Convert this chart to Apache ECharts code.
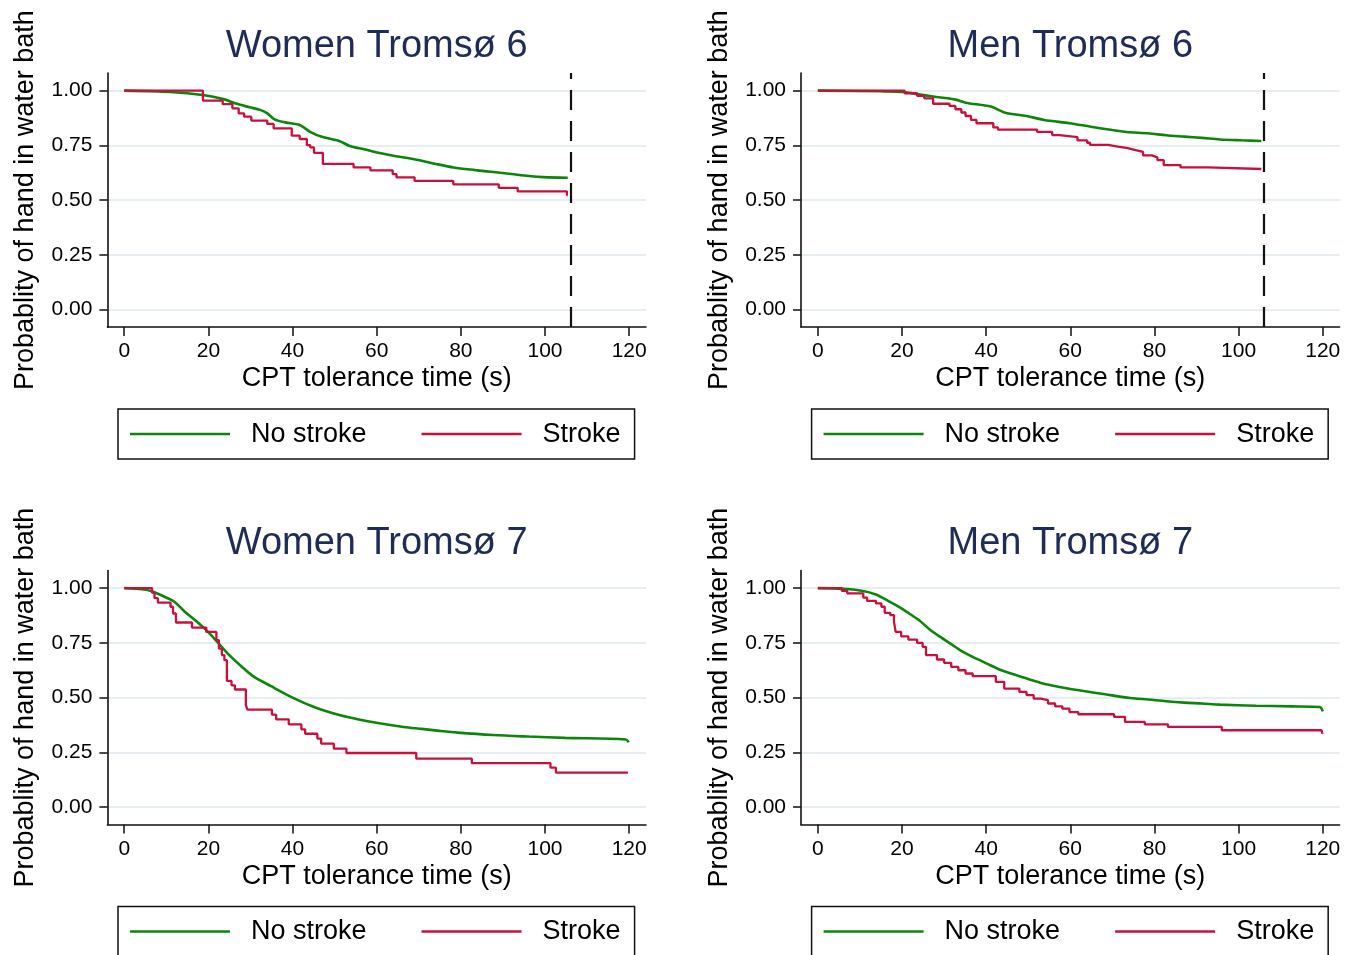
<!DOCTYPE html>
<html><head><meta charset="utf-8">
<script src="https://cdn.jsdelivr.net/npm/echarts@6/dist/echarts.min.js"></script>
<style>html,body{margin:0;padding:0;background:#fff}#c{width:1352px;height:955px}</style>
</head><body><div id="c"></div>
<script>
const panelTitles = ['Women Tromsø 6', 'Men Tromsø 6', 'Women Tromsø 7', 'Men Tromsø 7'];
const groupNames = ['No stroke', 'Stroke'];
const xTicks = [0, 20, 40, 60, 80, 100, 120];
const yTicks = [0, 0.25, 0.5, 0.75, 1];
const xTitle = 'CPT tolerance time (s)';
const yTitle = 'Probablity of hand in water bath';
const censorTime = 106;

const women6NoStroke = [[0,1],[11,0.994],[18.7,0.98],[23.8,0.96],[26.3,0.942],[29.8,0.924],[32.3,0.912],[34,0.896],[35.7,0.869],[38.3,0.855],[41.7,0.843],[44.2,0.812],[46.8,0.79],[51.1,0.77],[53.6,0.747],[57,0.732],[60.4,0.716],[63,0.706],[67.3,0.692],[70.7,0.68],[74.1,0.665],[78.3,0.649],[83.4,0.637],[87.7,0.628],[92,0.619],[96.2,0.61],[99.6,0.605],[105.4,0.602]];
const women6Stroke = [[0,1],[18.7,0.954],[23.4,0.938],[25.7,0.919],[27.2,0.896],[28.5,0.881],[30.2,0.863],[34,0.848],[35.5,0.828],[39.8,0.794],[41.7,0.779],[43.4,0.751],[44.2,0.741],[45.1,0.716],[47.2,0.665],[54.5,0.649],[58.5,0.636],[63.8,0.619],[64.7,0.604],[69,0.588],[78.2,0.572],[89,0.556],[93.5,0.54],[105.2,0.523],[105.4,0.523]];
const men6NoStroke = [[0,1],[14.7,0.997],[20.6,0.994],[23.2,0.985],[27.4,0.973],[32.5,0.96],[35.1,0.945],[41.1,0.927],[44.5,0.899],[49.6,0.884],[53.8,0.866],[59.8,0.851],[64.9,0.835],[70,0.82],[73.4,0.811],[78.5,0.805],[82.8,0.796],[87.1,0.79],[91.3,0.784],[95.6,0.777],[100.7,0.773],[105.4,0.77]];
const men6Stroke = [[0,1],[20.6,0.988],[23.6,0.976],[25.3,0.965],[27.4,0.94],[31.3,0.93],[32.7,0.915],[34.1,0.9],[35.1,0.884],[36.4,0.866],[37.7,0.851],[41.7,0.832],[42.8,0.822],[52.1,0.812],[55.7,0.797],[57.4,0.788],[61.7,0.773],[64,0.762],[64.7,0.752],[69,0.744],[71.3,0.738],[73.4,0.729],[75.3,0.72],[77.3,0.704],[79.4,0.695],[80.7,0.683],[82.2,0.66],[86.2,0.649],[92.8,0.642],[105.4,0.642]];
const women7NoStroke = [[0,1],[4.2,0.995],[6.7,0.985],[9.3,0.963],[11.9,0.938],[14.4,0.892],[17,0.851],[19.5,0.808],[22.1,0.755],[24.6,0.701],[28,0.64],[30.6,0.598],[34.9,0.552],[40,0.5],[45.1,0.457],[49.4,0.43],[53.6,0.409],[57.9,0.392],[62.1,0.378],[66.4,0.366],[70.7,0.357],[74.9,0.348],[79.2,0.34],[87.7,0.329],[96.2,0.322],[104.8,0.316],[119.2,0.309],[119.9,0.296]];
const women7Stroke = [[0,1],[6.6,0.979],[7.2,0.954],[8,0.934],[11,0.915],[11.6,0.884],[12.3,0.843],[16.1,0.82],[19.5,0.8],[21.9,0.762],[22.5,0.724],[23.2,0.694],[23.8,0.671],[24.4,0.576],[25.5,0.556],[26.3,0.537],[28.9,0.465],[29.3,0.445],[35.1,0.422],[36.1,0.401],[39.1,0.378],[42.1,0.355],[43,0.335],[45.9,0.313],[46.8,0.29],[49.8,0.267],[52.8,0.247],[69.4,0.221],[82.6,0.201],[101.3,0.18],[102.6,0.157],[119.7,0.157]];
const men7NoStroke = [[0,1],[6.1,0.997],[10.4,0.988],[13.8,0.971],[16.4,0.945],[18.9,0.919],[21.5,0.887],[24,0.854],[26.6,0.811],[29.1,0.777],[31.7,0.744],[34.2,0.712],[36.8,0.686],[40.2,0.655],[43.6,0.625],[47.9,0.598],[53,0.567],[58.1,0.546],[63.2,0.53],[68.3,0.515],[74.3,0.498],[78.5,0.491],[82.8,0.483],[87.1,0.477],[91.3,0.473],[95.6,0.468],[104.1,0.463],[112.6,0.46],[119.3,0.457],[120,0.437]];
const men7Stroke = [[0,1],[5.7,0.988],[7,0.976],[10.8,0.957],[11.7,0.942],[13.8,0.93],[15.1,0.915],[15.9,0.887],[17.2,0.877],[18.1,0.846],[18.5,0.8],[19.8,0.78],[21.5,0.765],[23.6,0.75],[24.9,0.732],[25.7,0.694],[28.3,0.674],[30,0.659],[31.7,0.64],[33.4,0.625],[35.1,0.61],[36.8,0.598],[42.3,0.572],[44.3,0.541],[47.9,0.526],[49.6,0.511],[51.3,0.495],[53,0.488],[54.7,0.473],[56.4,0.46],[58.1,0.45],[59.8,0.434],[61.9,0.424],[70.4,0.412],[73,0.389],[77.7,0.378],[83.2,0.366],[96,0.351],[119.7,0.351],[119.9,0.335]];

const panelData = [
  [women6NoStroke, women6Stroke, true],
  [men6NoStroke, men6Stroke, true],
  [women7NoStroke, women7Stroke, false],
  [men7NoStroke, men7Stroke, false]
];

const FONT = '"Liberation Sans", Arial, Helvetica, sans-serif';
const GREEN = '#0b860b';
const RED = '#c8103c';
const gridPos = [[107.4, 73.1], [801, 73.1], [107.4, 570.6], [801, 570.6]];
const GW = 538.6, GH = 254;

const grid = [], xAxis = [], yAxis = [], series = [], title = [], legend = [];
panelData.forEach((p, i) => {
  const [gl, gt] = gridPos[i];
  grid.push({left: gl, top: gt, width: GW, height: GH, containLabel: false});
  title.push({text: panelTitles[i], left: gl + GW / 2 - 5, textAlign: 'center', top: gt - 51,
    textStyle: {fontFamily: FONT, fontSize: 38, fontWeight: 'normal', color: '#1f2c56'}});
  xAxis.push({type: 'value', gridIndex: i, min: -4, max: 124,
    name: xTitle, nameLocation: 'middle', nameGap: 38,
    nameTextStyle: {fontFamily: FONT, fontSize: 27, color: '#000'},
    axisLine: {show: true, onZero: false, lineStyle: {color: '#111', width: 1.6}},
    axisTick: {show: true, length: 9, customValues: xTicks, lineStyle: {color: '#111', width: 1.5}},
    axisLabel: {customValues: xTicks, margin: 14, fontFamily: FONT, fontSize: 21, color: '#000'},
    splitLine: {show: false}});
  yAxis.push({type: 'value', gridIndex: i, min: -0.08, max: 1.08,
    name: yTitle, nameLocation: 'middle', nameGap: 68,
    nameTextStyle: {fontFamily: FONT, fontSize: 27, color: '#000'},
    axisLine: {show: true, onZero: false, lineStyle: {color: '#111', width: 1.6}},
    axisTick: {show: true, length: 8, customValues: yTicks, lineStyle: {color: '#111', width: 1.5}},
    axisLabel: {customValues: yTicks, margin: 15, fontFamily: FONT, fontSize: 21, color: '#000',
      formatter: v => v.toFixed(2)},
    splitLine: {show: true, lineStyle: {color: '#e6eef1', width: 2}}});
  series.push({type: 'line', name: groupNames[0], xAxisIndex: i, yAxisIndex: i, data: p[0],
    symbol: 'none', smooth: 0.3, color: GREEN, lineStyle: {color: GREEN, width: 2.6}, z: 3});
  const red = {type: 'line', name: groupNames[1], xAxisIndex: i, yAxisIndex: i, data: p[1],
    symbol: 'none', step: 'end', color: RED, lineStyle: {color: RED, width: 2.3}, z: 4};
  if (p[2]) {
    red.markLine = {silent: true, symbol: ['none', 'none'], label: {show: false},
      lineStyle: {type: [20, 11], color: '#111', width: 2.2}, data: [{xAxis: censorTime}]};
  }
  series.push(red);
  legend.push({data: groupNames, left: gl + 10.6, top: gt + 336, orient: 'horizontal',
    selectedMode: false, icon: 'rect', itemWidth: 100, itemHeight: 2.5, itemGap: 55,
    borderColor: '#111', borderWidth: 1.5, borderRadius: 0, padding: [10, 14, 10, 12],
    textStyle: {fontFamily: FONT, fontSize: 27, color: '#000', padding: [0, 0, 0, 16], lineHeight: 30}});
});

const chart = echarts.init(document.getElementById('c'), null, {renderer: 'canvas'});
chart.setOption({animation: false, backgroundColor: '#fff', title, legend, grid, xAxis, yAxis, series});
</script></body></html>
